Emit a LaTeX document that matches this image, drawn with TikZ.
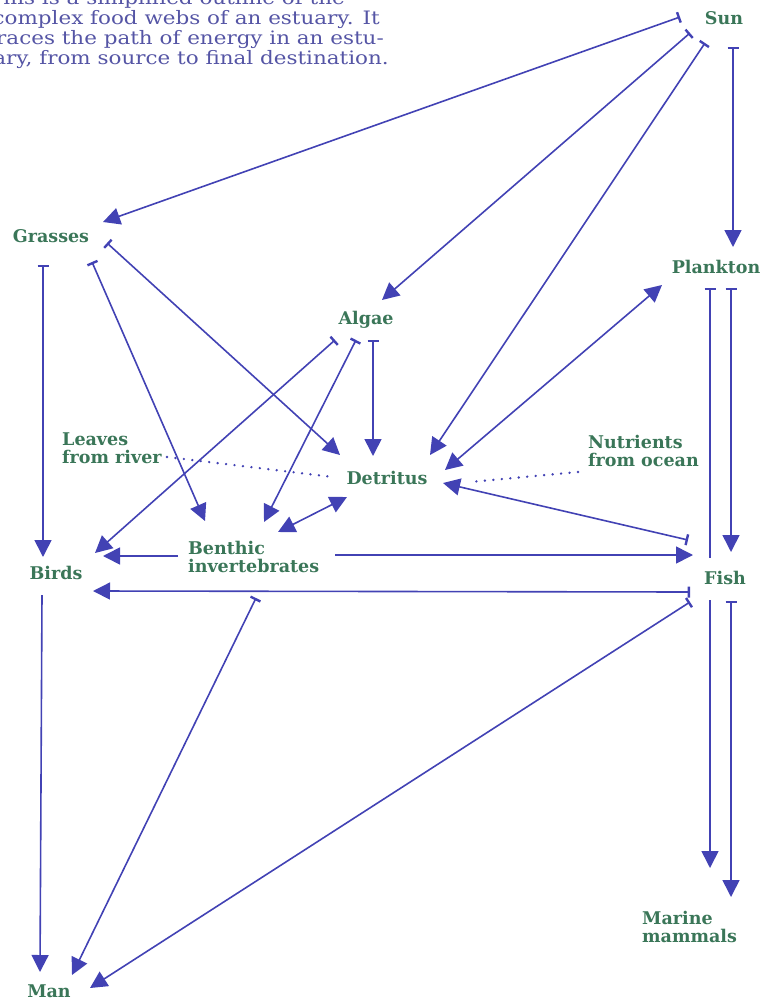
\documentclass[tikz,border=0pt]{standalone}
\usepackage{fontspec}
\setmainfont{DejaVu Serif}
\newfontfamily\notefont{DejaVu Serif}[FakeStretch=1.16]
\usetikzlibrary{arrows.meta}
\definecolor{webblue}{RGB}{66,66,180}
\definecolor{webgreen}{RGB}{58,118,88}
\definecolor{notetext}{RGB}{85,85,165}
\tikzset{headtip/.tip={Triangle[length=17pt,width=17pt]},
         bartip/.tip={Bar[width=11pt,line width=2.4pt]}}

\begin{document}
\begin{tikzpicture}[x=1pt,y=-1pt,
    webtext/.style={font=\bfseries\fontsize{17.5}{18}\selectfont,text=webgreen,inner sep=0pt},
    organism/.style={webtext,text height=13pt,text depth=5pt},
    block/.style={webtext,align=left,anchor=west},
    note/.style={font=\notefont\fontsize{18.5}{20}\selectfont,text=notetext,inner sep=0pt,anchor=base east},
    link/.style={draw=webblue,line width=1.6pt},
    feeds/.style={link,bartip-headtip},
    both/.style={link,headtip-headtip},
    drift/.style={draw=webblue,line width=2.6pt,line cap=round,dash pattern=on 0pt off 8.5pt}]
    \clip (0,0) rectangle (763,1003);

    % caption, cut off at the left
    \node[note] (note1) at (345,5) {This is a simplified outline of the};
    \node[note] (note2) at (380,25) {complex food webs of an estuary. It};
    \node[note] (note3) at (384,45) {traces the path of energy in an estu-};
    \node[note] (note4) at (389,65) {ary, from source to final destination.};

    \node[organism] (sun) at (724,21) {Sun};
    \node[organism] (grasses) at (51,238) {Grasses};
    \node[organism] (plankton) at (716,269) {Plankton};
    \node[organism] (algae) at (366,320) {Algae};
    \node[organism] (detritus) at (387,480) {Detritus};
    \node[organism] (birds) at (56,575) {Birds};
    \node[organism] (fish) at (725,580) {Fish};
    \node[organism] (man) at (49,993) {Man};
    \node[block] (leaves) at (62,448) {Leaves\\from river};
    \node[block] (nutrients) at (588,451) {Nutrients\\from ocean};
    \node[block] (benthic) at (188,557) {Benthic\\invertebrates};
    \node[block] (marine) at (642,927) {Marine\\mammals};

    % sun
    \draw[feeds] ([shift={(-44,-4)}]sun.center) -- ([shift={(52,-16)}]grasses.center);
    \draw[feeds] ([shift={(-34,12)}]sun.center) -- ([shift={(16,-20)}]algae.center);
    \draw[feeds] ([shift={(-19,22)}]sun.center) -- ([shift={(43,-25)}]detritus.center);
    \draw[feeds] ([shift={(9,26)}]sun.center) -- ([shift={(17,-22)}]plankton.center);

    % plankton
    \draw[feeds] ([shift={(15,19)}]plankton.center) -- ([shift={(6,-28)}]fish.center);
    \draw[link,bartip-] ([shift={(-6,19)}]plankton.center) -- ([shift={(-15,-22)}]fish.center);
    \draw[both] ([shift={(-54,16)}]plankton.center) -- ([shift={(58,-10)}]detritus.center);

    % fish
    \draw[link,-headtip] ([shift={(-15,20)}]fish.center) -- ([shift={(68,-59)}]marine.west);
    \draw[feeds] ([shift={(6,21)}]fish.center) -- ([shift={(89,-30)}]marine.west);
    \draw[feeds] ([shift={(-37,-40)}]fish.center) -- ([shift={(56,3)}]detritus.center);
    \draw[feeds] ([shift={(-35,12)}]fish.center) -- ([shift={(37,16)}]birds.center);
    \draw[feeds] ([shift={(-35,22)}]fish.center) -- ([shift={(41,-5)}]man.center);

    % grasses
    \draw[feeds] ([shift={(-8,27)}]grasses.center) -- ([shift={(-13,-18)}]birds.center);
    \draw[feeds] ([shift={(41,24)}]grasses.center) -- ([shift={(17,-36)}]benthic.west);
    \draw[feeds] ([shift={(56,5)}]grasses.center) -- ([shift={(-47,-25)}]detritus.center);

    % algae
    \draw[feeds] ([shift={(-31,20)}]algae.center) -- ([shift={(39,-22)}]birds.center);
    \draw[feeds] ([shift={(-10,20)}]algae.center) -- ([shift={(76,-35)}]benthic.west);
    \draw[feeds] ([shift={(7,20)}]algae.center) -- ([shift={(-14,-24)}]detritus.center);

    % benthic invertebrates and birds
    \draw[both] ([shift={(90,-25)}]benthic.west) -- ([shift={(-40,17)}]detritus.center);
    \draw[link,-headtip] ([shift={(-10,-1)}]benthic.west) -- ([shift={(47,-19)}]birds.center);
    \draw[link,-headtip] ([shift={(147,-2)}]benthic.west) -- ([shift={(-32,-25)}]fish.center);
    \draw[feeds] ([shift={(68,41)}]benthic.west) -- ([shift={(23,-18)}]man.center);
    \draw[link,-headtip] ([shift={(-14,20)}]birds.center) -- ([shift={(-9,-21)}]man.center);

    % outside sources
    \draw[drift] ([shift={(105,9)}]leaves.west) -- ([shift={(-54,-3)}]detritus.center);
    \draw[drift] ([shift={(-10,21)}]nutrients.west) -- ([shift={(83,2)}]detritus.center);
\end{tikzpicture}
\end{document}
